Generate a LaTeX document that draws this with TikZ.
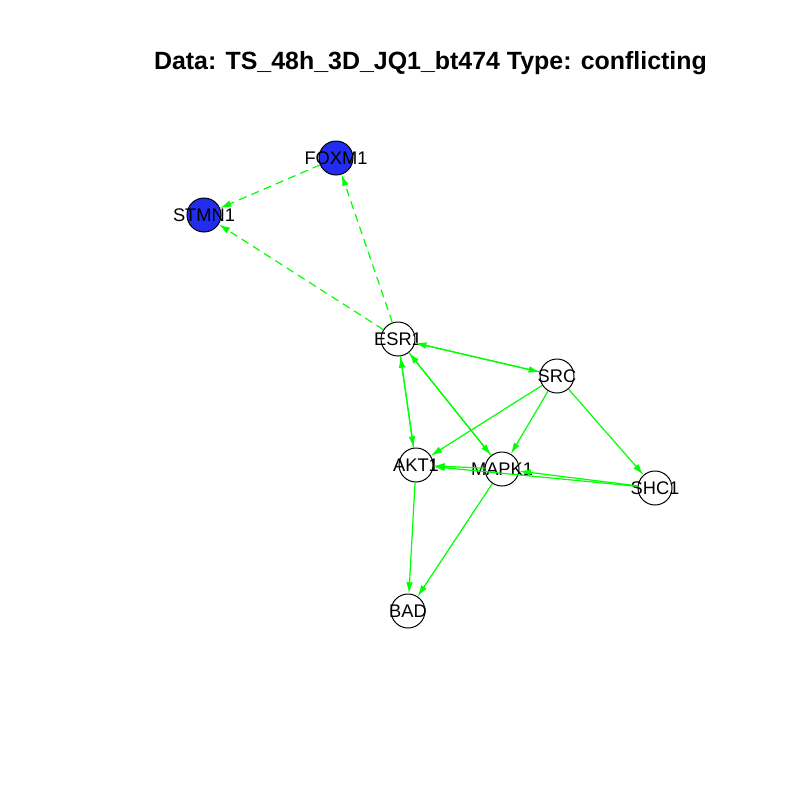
\documentclass[tikz,border=0pt]{standalone}
\usepackage{fontspec}
\setmainfont{Liberation Sans}
\usetikzlibrary{arrows.meta}
\definecolor{rgreen}{RGB}{0,255,0}
\definecolor{rblue}{RGB}{35,45,240}
\tikzstyle{vertex} = [draw, circle, line width=0.75pt, minimum size=25.5pt,
                      inner sep=0pt]
\tikzstyle{hit} = [vertex, fill=rblue]
\tikzstyle{link} = [->, draw=rgreen, line width=0.9pt]
\tikzstyle{weak} = [link, dash pattern=on 6pt off 4pt]

\begin{document}
\begin{tikzpicture}[x=0.75pt, y=-0.75pt, >={Latex[length=8.5pt,width=5pt]},
    every label/.style={font=\fontsize{13.7}{15}\selectfont, inner sep=0pt}]

% background
\fill[white] (0,0) rectangle (800,800);

% title
\node[font=\bfseries\fontsize{18.7}{20}\selectfont] (title) at (430.5,63)
  {Data: TS\_48h\_3D\_JQ1\_bt474 Type: conflicting};

% add nodes
\node[hit, label={center:FOXM1}]   (foxm1) at (336,158) {};
\node[hit, label={center:STMN1}]   (stmn1) at (204,215) {};
\node[vertex, label={center:ESR1}]  (esr1)  at (398,339) {};
\node[vertex, label={center:SRC}]  (src)   at (557,376) {};
\node[vertex, label={center:AKT1}] (akt1)  at (416,465) {};
\node[vertex, label={center:MAPK1}](mapk1) at (502,469) {};
\node[vertex, label={center:SHC1}] (shc1)  at (655,488) {};
\node[vertex, label={center:BAD}]  (bad)   at (408,611) {};

% add connections
\draw[weak] (foxm1) -- (stmn1);
\draw[weak] (esr1) -- (stmn1);
\draw[weak] (esr1) -- (foxm1);
\draw[link] (esr1) -- (src);
\draw[link] (src) -- (esr1);
\draw[link] (esr1) -- (akt1);
\draw[link] (akt1) -- (esr1);
\draw[link] (esr1) -- (mapk1);
\draw[link] (mapk1) -- (esr1);
\draw[link] (src) -- (akt1);
\draw[link] (src) -- (mapk1);
\draw[link] (src) -- (shc1);
\draw[link] (shc1) -- (mapk1);
\draw[link] (shc1) -- (akt1);
\draw[link] (mapk1) -- (akt1);
\draw[link] (akt1) -- (bad);
\draw[link] (mapk1) -- (bad);

\end{tikzpicture}
\end{document}
